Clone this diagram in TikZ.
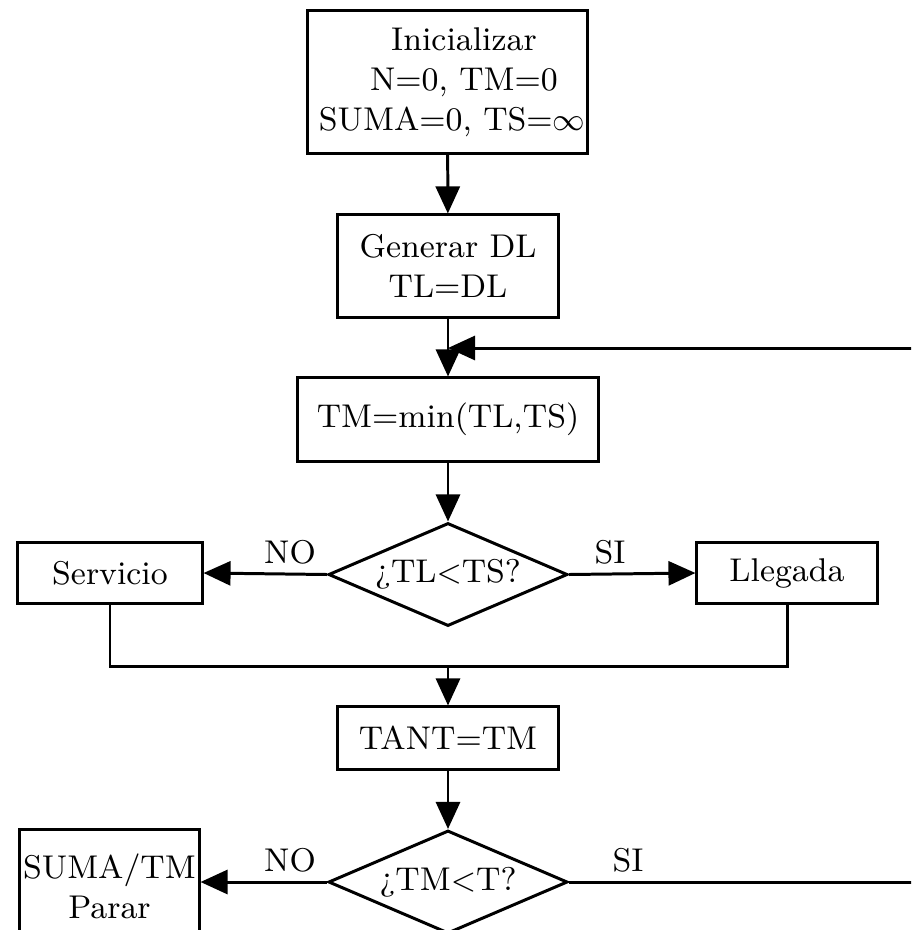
\documentclass[tikz,border=0pt]{standalone}
\usetikzlibrary{shapes.geometric,arrows.meta}
\begin{document}
\begin{tikzpicture}[x=0.01cm,y=-0.01cm,
  every node/.style={font=\fontsize{9.35}{11.4}\selectfont},
  box/.style={draw,line width=0.85pt,inner sep=0pt,align=center},
  decision/.style={draw,diamond,aspect=2.3,line width=0.85pt,inner sep=0pt,
    minimum width=2.39cm,minimum height=1.03cm},
  flow/.style={line width=0.85pt,-{Triangle[length=0.27cm,width=0.24cm]}},
  link/.style={line width=0.85pt}]
\useasboundingbox (0,0) rectangle (911,930);
\clip (0,0) rectangle (911,930);

% process steps
\node[box,minimum width=2.79cm,minimum height=1.42cm] (init) at (447.5,82)
  {\hspace*{1em}Inicializar\\\hspace*{1em}N=0, TM=0\\\hspace*{0.28em}SUMA=0, TS=$\infty$};
\node[box,minimum width=2.20cm,minimum height=1.02cm] (gen) at (448,266)
  {Generar DL\\TL=DL};
\node[box,minimum width=3.00cm,minimum height=0.83cm] (tm) at (448,419.5)
  {TM=min(TL,TS)};
\node[decision] (d1) at (448,574.5) {¿TL$<$TS?};
\node[box,minimum width=1.84cm,minimum height=0.60cm] (serv) at (110,573) {Servicio};
\node[box,minimum width=1.80cm,minimum height=0.60cm] (lleg) at (787,573) {Llegada};
\node[box,minimum width=2.20cm,minimum height=0.62cm] (tant) at (448,738) {TANT=TM};
\node[decision] (d2) at (448,882) {¿TM$<$T?};
\node[box,minimum width=1.79cm,minimum height=1.13cm] (stop) at (109.5,886.5)
  {SUMA/TM\\Parar};

% branch labels
\node (no1) at (290,552) {NO};
\node (si1) at (610,552) {SI};
\node (no2) at (290,860) {NO};
\node (si2) at (628,860) {SI};

% helper points
\coordinate (join) at (448,348);
\coordinate (merge) at (448,666);
\coordinate (loopB) at (980,882);
\coordinate (loopT) at (980,348);

% connectors
\draw[flow] (init) -- (gen);
\draw[flow] (gen) -- (tm);
\draw[flow] (tm) -- (d1);
\draw[flow] (d1.west) -- (serv.east);
\draw[flow] (d1.east) -- (lleg.west);
\draw[link] (serv.south) |- (merge) -| (lleg.south);
\draw[flow] (merge) -- (tant);
\draw[flow] (tant) -- (d2);
\draw[flow] (d2.west) -- (stop.east |- d2.west);
\draw[flow] (d2.east) -- (loopB) -- (loopT) -- (join);
\end{tikzpicture}
\end{document}
